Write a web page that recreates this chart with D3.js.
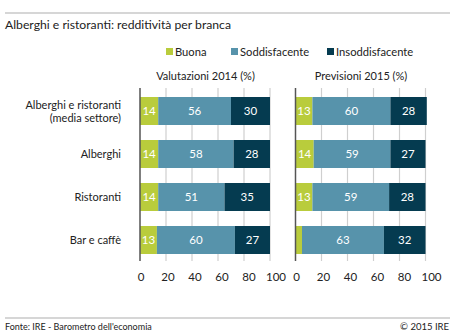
<!DOCTYPE html>
<html><head><meta charset="utf-8">
<script src="https://cdn.jsdelivr.net/npm/d3@7"></script>
<style>body{margin:0;background:#fff}svg{display:block;font-family:Lato,"Open Sans",sans-serif}</style>
</head><body><svg id="c" width="450" height="333"></svg>
<script>
const categories = [["Alberghi e ristoranti","(media settore)"],["Alberghi"],["Ristoranti"],["Bar e caffè"]];
const seriesNames = ["Buona","Soddisfacente","Insoddisfacente"];
const colors = ["#b9cc3c","#5793ab","#053b50"];
const panelTitles = ["Valutazioni 2014 (%)","Previsioni 2015 (%)"];
const buona2014 = [14,14,14,13];
const soddisf2014 = [56,58,51,60];
const insoddisf2014 = [30,28,35,27];
const buona2015 = [13,14,13,5];
const soddisf2015 = [60,59,59,63];
const insoddisf2015 = [28,27,28,32];
const tickValues = [0,20,40,60,80,100];

(function(){
const svg = d3.select("#c");
const W = 450, H = 333;
svg.append("rect").attr("width",W).attr("height",H).attr("fill","#fff");
svg.append("line").attr("x1",5).attr("x2",450).attr("y1",13).attr("y2",13).attr("stroke","#c8c8c8").attr("stroke-width",1.5);
svg.append("text").attr("x",5).attr("y",28.5).attr("font-size",12.2).attr("fill","#222").text("Alberghi e ristoranti: redditività per branca");

const legX = [166, 231, 327];
seriesNames.forEach((n,i)=>{
  const g = svg.append("g").attr("transform",`translate(${legX[i]},51.5)`);
  g.append("rect").attr("x",0).attr("y",-3.5).attr("width",7).attr("height",7).attr("fill",colors[i]);
  g.append("text").attr("x",9).attr("y",4).attr("font-size",11.2).attr("fill","#222").text(n);
});

const plotTop = 88, plotBottom = 261;
const yb = d3.scaleBand().domain(d3.range(categories.length)).range([89.5, 261.5]).paddingInner(15/43).paddingOuter(15/86);

const panels = [
  {x0:140, x1:270, data:[buona2014,soddisf2014,insoddisf2014], title:panelTitles[0]},
  {x0:295.5, x1:425.5, data:[buona2015,soddisf2015,insoddisf2015], title:panelTitles[1]}
];

panels.forEach(p=>{
  const x = d3.scaleLinear().domain([0,100]).range([p.x0,p.x1]);
  const xl = d3.scaleLinear().domain([0,100]).range([p.x0+0.5,p.x1+5.5]);
  const g = svg.append("g");
  g.append("text").attr("x",(p.x0+p.x1)/2+0.5).attr("y",80).attr("text-anchor","middle").attr("font-size",11).attr("fill","#222").text(p.title);
  g.selectAll("line.grid").data(tickValues.slice(1)).join("line")
    .attr("x1",d=>x(d)).attr("x2",d=>x(d)).attr("y1",plotTop).attr("y2",plotBottom)
    .attr("stroke","#cfcfcf").attr("stroke-width",1.2);
  categories.forEach((c,i)=>{
    let cum = 0;
    p.data.forEach((s,k)=>{
      const v = s[i];
      const xs = x(cum), xe = x(cum+v);
      g.append("rect").attr("x",xs).attr("y",yb(i)).attr("width",xe-xs).attr("height",yb.bandwidth()).attr("fill",colors[k]);
      if (v >= 8) g.append("text").attr("x",(xs+xe)/2).attr("y",yb(i)+yb.bandwidth()/2+4.2)
        .attr("text-anchor","middle").attr("font-size",11.5).attr("fill","#fff").text(v);
      cum += v;
    });
  });
  g.append("line").attr("x1",p.x0).attr("x2",p.x0).attr("y1",plotTop).attr("y2",plotBottom).attr("stroke","#555").attr("stroke-width",1.5);
  const ax = svg.append("g").attr("transform",`translate(0,${plotBottom})`)
    .call(d3.axisBottom(xl).tickValues(tickValues).tickSize(0).tickPadding(12));
  ax.select(".domain").remove();
  ax.selectAll("text").attr("font-size",11.5).attr("fill","#222").attr("font-family","Lato,sans-serif");
});

categories.forEach((c,i)=>{
  const t = svg.append("text").attr("text-anchor","end").attr("font-size",11).attr("fill","#222");
  const cy = yb(i)+yb.bandwidth()/2;
  if (c.length === 1) t.append("tspan").attr("x",121).attr("y",cy+4).text(c[0]);
  else c.forEach((l,j)=>t.append("tspan").attr("x",121).attr("y",cy-2+j*13).text(l));
});

svg.append("line").attr("x1",5).attr("x2",450).attr("y1",318).attr("y2",318).attr("stroke","#c8c8c8").attr("stroke-width",1.5);
svg.append("text").attr("x",5).attr("y",330).attr("font-size",9).attr("fill","#222").text("Fonte: IRE - Barometro dell'economia");
svg.append("text").attr("x",449).attr("y",330).attr("text-anchor","end").attr("font-size",9.5).attr("fill","#222").text("© 2015 IRE");
})();
</script></body></html>
